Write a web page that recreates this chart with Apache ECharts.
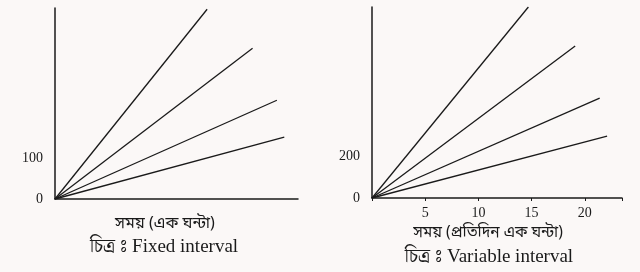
<!DOCTYPE html>
<html><head><meta charset="utf-8">
<script src="https://cdn.jsdelivr.net/npm/echarts@6/dist/echarts.min.js"></script>
<style>html,body{margin:0;padding:0;background:#fbf8f7}#c{width:640px;height:272px}</style>
</head><body><div id="c"></div>
<script>
// Fixed interval panel (left): each line from origin to end point [x, y]
const fixedEndX = [14.4, 18.7, 21.0, 21.7];
const fixedEndY = [463, 368, 241, 151];
const fixedYTicks = [0, 100];
// Variable interval panel (right)
const varEndX = [14.7, 19.1, 21.4, 22.1];
const varEndY = [910, 724, 476, 295];
const varYTicks = [0, 200];
const varXTicks = [5, 10, 15, 20];
const leftXName = 'সময় (এক ঘন্টা)';
const rightXName = 'সময় (প্রতিদিন এক ঘন্টা)';
const leftCaption = 'চিত্র\u00A0ঃ Fixed interval';
const rightCaption = 'চিত্র\u00A0ঃ Variable interval';

const serif = "'Liberation Serif','DejaVu Serif','Noto Serif Bengali','Noto Sans Bengali','Lohit Bengali',serif";
const bn = "'Noto Sans Bengali','Noto Serif Bengali','Lohit Bengali','Liberation Serif',serif";
const ink = '#1a1a1a';

function mkSeries(xs, ys, idx) {
  return xs.map((x, i) => ({
    type: 'line', xAxisIndex: idx, yAxisIndex: idx, symbol: 'none', silent: true,
    lineStyle: {color: ink, width: 1.3},
    data: [[0, 0], [x, ys[i]]]
  }));
}

const chart = echarts.init(document.getElementById('c'));
chart.setOption({
  backgroundColor: '#fbf8f7',
  animation: false,
  grid: [
    {left: 55, top: 8, width: 243, height: 191},
    {left: 372, top: 7, width: 250, height: 191}
  ],
  xAxis: [
    {type: 'value', gridIndex: 0, min: 0, max: 23, splitLine: {show: false},
     axisLine: {lineStyle: {color: ink, width: 1.5}}, axisTick: {show: false}, axisLabel: {show: false}},
    {type: 'value', gridIndex: 1, min: 0, max: 23.5, interval: 5, splitLine: {show: false},
     axisLine: {lineStyle: {color: ink, width: 1.5}},
     axisTick: {show: true, length: 3, lineStyle: {color: ink}},
     axisLabel: {margin: 8, fontFamily: serif, fontSize: 14, color: ink,
       formatter: v => varXTicks.includes(v) ? String(v) : ''}}
  ],
  yAxis: [
    {type: 'value', gridIndex: 0, min: 0, max: 466, interval: 100, splitLine: {show: false},
     axisLine: {show: true, lineStyle: {color: ink, width: 1.5}}, axisTick: {show: false},
     axisLabel: {margin: 12, fontFamily: serif, fontSize: 14, color: ink,
       formatter: v => fixedYTicks.includes(v) ? String(v) : ''}},
    {type: 'value', gridIndex: 1, min: 0, max: 910, interval: 200, splitLine: {show: false},
     axisLine: {show: true, lineStyle: {color: ink, width: 1.5}}, axisTick: {show: false},
     axisLabel: {margin: 12, fontFamily: serif, fontSize: 14, color: ink,
       formatter: v => varYTicks.includes(v) ? String(v) : ''}}
  ],
  graphic: [
    {type: 'text', x: 165, y: 225, style: {text: leftXName, font: '16px ' + bn, fill: ink, textAlign: 'center', textVerticalAlign: 'middle'}},
    {type: 'text', x: 164, y: 247, style: {text: leftCaption, font: '19px ' + serif, fill: ink, textAlign: 'center', textVerticalAlign: 'middle'}},
    {type: 'text', x: 488, y: 234, style: {text: rightXName, font: '15.5px ' + bn, fill: ink, textAlign: 'center', textVerticalAlign: 'middle'}},
    {type: 'text', x: 489, y: 257, style: {text: rightCaption, font: '19px ' + serif, fill: ink, textAlign: 'center', textVerticalAlign: 'middle'}}
  ],
  series: [...mkSeries(fixedEndX, fixedEndY, 0), ...mkSeries(varEndX, varEndY, 1)]
});
</script></body></html>
